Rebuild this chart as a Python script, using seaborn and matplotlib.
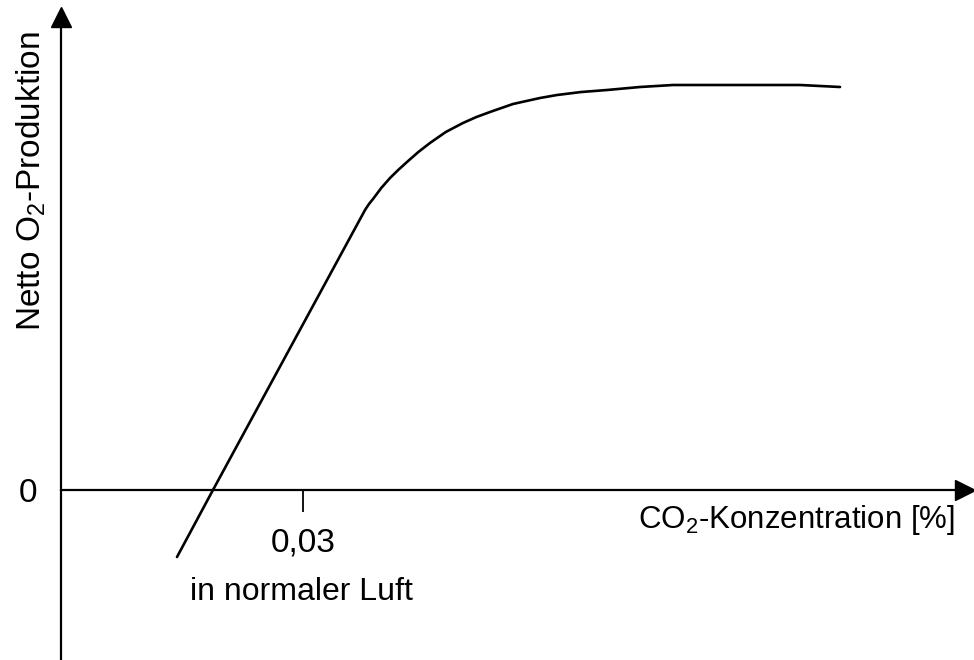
import matplotlib
matplotlib.use("Agg")
import matplotlib.pyplot as plt
import seaborn as sns
import pandas as pd

# schematic curve (x: CO2 %, y: arbitrary units)
co2 = [0.01438, 0.01884, 0.03769, 0.03818, 0.03868, 0.03970, 0.04079, 0.04180,
       0.04289, 0.04430, 0.04574, 0.04770, 0.04983, 0.05150, 0.05318, 0.05460,
       0.05603, 0.05770, 0.05938, 0.06149, 0.06450, 0.06769, 0.07178, 0.07587,
       0.08417, 0.09161, 0.09657]
o2 = [-0.67, 0.0, 2.80, 2.86, 2.91, 3.02, 3.12, 3.20, 3.28, 3.38, 3.47, 3.58,
      3.67, 3.73, 3.78, 3.82, 3.86, 3.89, 3.92, 3.95, 3.98, 4.00, 4.03, 4.05,
      4.05, 4.05, 4.03]
xticks = [0.03]
xtick_labels = ["0,03"]
yticks = [0]
ytick_labels = ["0"]

sns.set_style("white")
plt.rcParams["font.family"] = ["Liberation Sans", "DejaVu Sans"]
plt.rcParams["mathtext.fontset"] = "custom"
plt.rcParams["mathtext.rm"] = "Liberation Sans"
plt.rcParams["mathtext.default"] = "regular"
plt.rcParams["text.color"] = "black"
plt.rcParams["xtick.color"] = "black"
plt.rcParams["ytick.color"] = "black"

df = pd.DataFrame({"co2": co2, "o2": o2})

fig = plt.figure(figsize=(9.74, 6.6), dpi=100)
ax = fig.add_axes([0, 0, 1, 1])
sns.lineplot(data=df, x="co2", y="o2", color="black", linewidth=1.9, ax=ax)

ax.set_xlim(-0.00756, 0.11318)
ax.set_ylim(-1.70, 4.90)

for side in ["top", "right"]:
    ax.spines[side].set_visible(False)
ax.spines["left"].set_position(("data", 0))
ax.spines["bottom"].set_position(("data", 0))
ax.spines["left"].set_bounds(-1.70, 4.70)
ax.spines["bottom"].set_bounds(0, 0.1115)
for side in ["left", "bottom"]:
    ax.spines[side].set_linewidth(1.6)
    ax.spines[side].set_color("black")

# arrow heads
ax.plot(0, 0.974, "^k", markersize=15, transform=ax.get_xaxis_transform(), clip_on=False)
ax.plot(0.991, 0, ">k", markersize=15, transform=ax.get_yaxis_transform(), clip_on=False)

ax.set_xticks(xticks, xtick_labels, fontsize=24)
ax.set_yticks(yticks, ytick_labels, fontsize=24)
ax.tick_params(axis="x", direction="out", length=16, width=1.3, pad=11, bottom=True)
ax.tick_params(axis="y", length=0, pad=17)

ax.set_xlabel("")
ax.set_ylabel("")
ax.text(0.0298, -1.02, "in normaler Luft", fontsize=23, ha="center", va="center")
ax.text(955 / 974, 1 - 520 / 660, "CO$_2$-Konzentration [%]", fontsize=22.5,
        ha="right", va="center", transform=ax.transAxes)
ax.text(31 / 974, 1 - 181 / 660, "Netto O$_2$-Produktion", fontsize=24, rotation=90,
        ha="center", va="center", transform=ax.transAxes)

fig.savefig("out.png", dpi=100)
